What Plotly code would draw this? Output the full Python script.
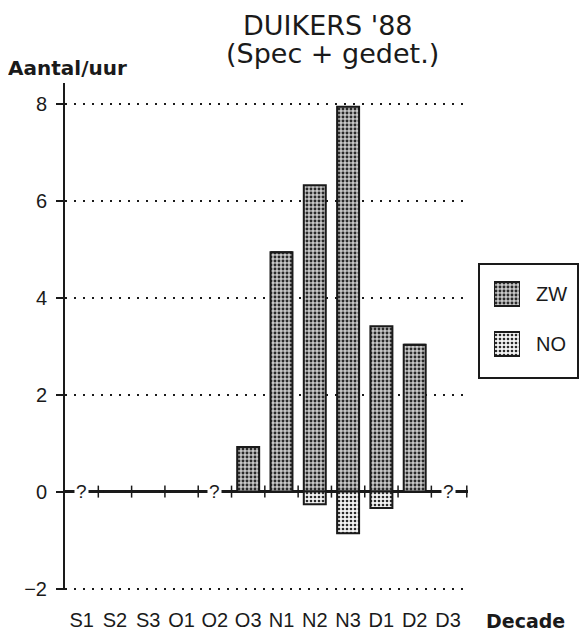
import plotly.graph_objects as go

# ---- data ----
decades = ["S1", "S2", "S3", "O1", "O2", "O3", "N1", "N2", "N3", "D1", "D2", "D3"]
missing = ["S1", "O2", "D3"]          # decades marked with '?'
zw_values = [None, 0, 0, 0, None, 0.92, 4.94, 6.32, 7.94, 3.41, 3.03, None]
no_values = [None, 0, 0, 0, None, 0, 0, -0.26, -0.86, -0.34, 0, None]
series_names = ["ZW", "NO"]
y_tick_values = [-2, 0, 2, 4, 6, 8]
title_lines = ["DUIKERS '88", "(Spec + gedet.)"]
y_title = "Aantal/uur"
x_title = "Decade"

# ---- geometry: positions below are in window pixels; the page body
# has an 8px margin, so the figure itself starts at (8, 8) ----
OFF = 8
W, H = 587 - OFF, 639 - OFF
PLOT_L, PLOT_T, PLOT_B = 65, 83, 590      # window pixels
AREA_R = 579                              # right edge of the drawable area
PLOT_RIGHT = 468                          # right end of the chart area
ML, MT = PLOT_L - OFF, PLOT_T - OFF
MB = (H + OFF) - PLOT_B
MR = (W + OFF) - AREA_R
PW, PH = W - ML - MR, H - MT - MB


def px_x(px):
    return (px - PLOT_L) / PW


def px_y(py):
    return (PLOT_B - py) / PH


INK = "#1a1a1a"
AX_FONT = "Liberation Sans, Arial, sans-serif"

styles = {
    "ZW": dict(color="#c8c8c8", line=dict(color=INK, width=2),
               pattern=dict(shape=".", fgcolor="#2a2a2a", bgcolor="#c8c8c8",
                            size=4, solidity=0.42, fillmode="replace")),
    "NO": dict(color="#f4f4f4", line=dict(color=INK, width=2),
               pattern=dict(shape=".", fgcolor="#2a2a2a", bgcolor="#f4f4f4",
                            size=4, solidity=0.35, fillmode="replace")),
}

fig = go.Figure()
for name, vals in zip(series_names, [zw_values, no_values]):
    fig.add_trace(go.Bar(x=decades, y=vals, name=name, width=0.66,
                         marker=styles[name], showlegend=False))

# legend keys drawn as patterned bars on their own small axes
for name in series_names:
    fig.add_trace(go.Bar(x=[1], y=[name], orientation="h", width=0.48,
                         xaxis="x2", yaxis="y2", marker=styles[name],
                         showlegend=False, hoverinfo="skip"))

shapes = []
for k in range(1, len(decades)):
    shapes.append(dict(type="line", xref="x", yref="y", x0=k - 0.5, x1=k - 0.5,
                       ysizemode="pixel", yanchor=0, y0=-6, y1=6,
                       line=dict(color=INK, width=1.5)))
shapes.append(dict(type="line", xref="x domain", yref="y", x0=0.997, x1=0.997,
                   ysizemode="pixel", yanchor=0, y0=-6, y1=6,
                   line=dict(color=INK, width=1.5)))
# legend frame
shapes.append(dict(type="rect", xref="paper", yref="paper",
                   x0=px_x(479), x1=px_x(578), y0=px_y(378), y1=px_y(264),
                   line=dict(color=INK, width=2), fillcolor="rgba(0,0,0,0)"))

annotations = []
for c in missing:
    annotations.append(dict(x=c, y=0, xref="x", yref="y", text="?",
                            showarrow=False, bgcolor="white", borderpad=1,
                            font=dict(family=AX_FONT, size=19, color=INK),
                            xanchor="center", yanchor="middle"))
for name, py in zip(series_names, [294, 344]):
    annotations.append(dict(x=px_x(534), y=px_y(py), xref="paper", yref="paper",
                            text=name, showarrow=False,
                            font=dict(family=AX_FONT, size=20, color=INK),
                            xanchor="left", yanchor="middle"))
annotations.append(dict(x=px_x(328), y=px_y(25), xref="paper", yref="paper",
                        text=title_lines[0], showarrow=False,
                        font=dict(family="DejaVu Sans", size=27, color=INK),
                        xanchor="center", yanchor="middle"))
annotations.append(dict(x=px_x(332), y=px_y(54), xref="paper", yref="paper",
                        text=title_lines[1], showarrow=False,
                        font=dict(family="DejaVu Sans", size=27, color=INK),
                        xanchor="center", yanchor="middle"))
annotations.append(dict(x=px_x(6), y=px_y(68), xref="paper", yref="paper",
                        text="<b>" + y_title + "</b>", showarrow=False,
                        font=dict(family="DejaVu Sans", size=20, color=INK),
                        xanchor="left", yanchor="middle"))
annotations.append(dict(x=px_x(484), y=px_y(621), xref="paper", yref="paper",
                        text="<b>" + x_title + "</b>", showarrow=False,
                        font=dict(family="DejaVu Sans", size=19, color=INK),
                        xanchor="left", yanchor="middle"))

fig.update_layout(
    width=W, height=H, autosize=False,
    margin=dict(l=ML, r=MR, t=MT, b=MB, pad=0),
    paper_bgcolor="white", plot_bgcolor="rgba(0,0,0,0)",
    barmode="relative",
    showlegend=False,
    shapes=shapes,
    annotations=annotations,
    xaxis=dict(domain=[0, px_x(PLOT_RIGHT)],
               type="category", categoryorder="array", categoryarray=decades,
               range=[-0.5, 11.6], showgrid=False, zeroline=False,
               showline=False, ticks="", ticklabelstandoff=16,
               tickfont=dict(family=AX_FONT, size=20, color=INK)),
    yaxis=dict(range=[-2.03, 8.43], tickmode="array", tickvals=y_tick_values,
               showgrid=True, gridcolor=INK, gridwidth=1.5, griddash="2px,7px",
               zeroline=True, zerolinecolor=INK, zerolinewidth=3,
               showline=True, linecolor=INK, linewidth=2,
               ticks="outside", ticklen=7, tickwidth=1.5, tickcolor=INK,
               ticklabelstandoff=5,
               tickfont=dict(family=AX_FONT, size=20, color=INK)),
    xaxis2=dict(domain=[px_x(494), px_x(520)], anchor="y2", range=[0, 1],
                visible=False, fixedrange=True),
    yaxis2=dict(domain=[px_y(369), px_y(269)], anchor="x2", type="category",
                categoryorder="array", categoryarray=series_names[::-1],
                range=[-0.5, 1.5], visible=False, fixedrange=True),
)

fig.write_html("out.html")
